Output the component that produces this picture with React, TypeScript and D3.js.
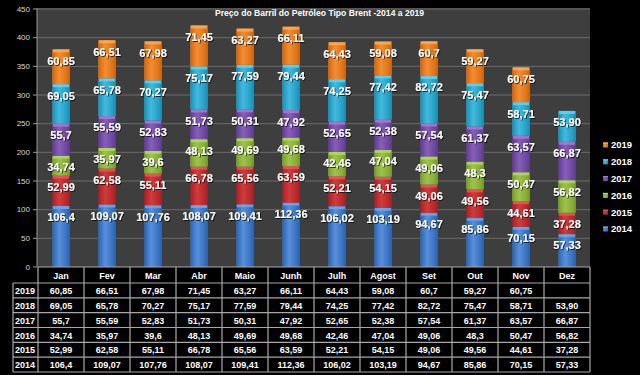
import React from "react";
import * as d3 from "d3";

const months = ["Jan", "Fev", "Mar", "Abr", "Maio", "Junh", "Julh", "Agost", "Set", "Out", "Nov", "Dez"];
const years = ["2014", "2015", "2016", "2017", "2018", "2019"];

const v2014 = ["106,4", "109,07", "107,76", "108,07", "109,41", "112,36", "106,02", "103,19", "94,67", "85,86", "70,15", "57,33"];
const v2015 = ["52,99", "62,58", "55,11", "66,78", "65,56", "63,59", "52,21", "54,15", "49,06", "49,56", "44,61", "37,28"];
const v2016 = ["34,74", "35,97", "39,6", "48,13", "49,69", "49,68", "42,46", "47,04", "49,06", "48,3", "50,47", "56,82"];
const v2017 = ["55,7", "55,59", "52,83", "51,73", "50,31", "47,92", "52,65", "52,38", "57,54", "61,37", "63,57", "66,87"];
const v2018 = ["69,05", "65,78", "70,27", "75,17", "77,59", "79,44", "74,25", "77,42", "82,72", "75,47", "58,71", "53,90"];
const v2019 = ["60,85", "66,51", "67,98", "71,45", "63,27", "66,11", "64,43", "59,08", "60,7", "59,27", "60,75", ""];

const yTicks = [0, 50, 100, 150, 200, 250, 300, 350, 400, 450];
const title = "Preço do Barril do Petróleo Tipo Brent -2014 a 2019";

const seriesStrings = [v2014, v2015, v2016, v2017, v2018, v2019];
const colors = [
  { base: "#3a72c2", light: "#5890da", dark: "#30619f", cap: "#7aa8e6" },
  { base: "#b8292b", light: "#cf3d3d", dark: "#97222a", cap: "#e06060" },
  { base: "#86ad37", light: "#9ec34d", dark: "#71932d", cap: "#b8d870" },
  { base: "#6e47a0", light: "#8660b8", dark: "#5c3b88", cap: "#a283cf" },
  { base: "#279fc4", light: "#43b9dd", dark: "#2088a8", cap: "#70d2ee" },
  { base: "#e0741a", light: "#f28e32", dark: "#c26314", cap: "#f8b060" },
];

const num = (s: string) => (s === "" ? null : +s.replace(",", "."));

export default function App() {
  const W = 640, H = 375;
  const plotL = 37, plotR = 590, plotT = 9, plotB = 267;
  const y = d3.scaleLinear().domain([0, 450]).range([plotB, plotT]);
  const x = d3.scaleBand<string>().domain(months).range([38, 590]).padding(0);
  const barW = 18;

  const rows = months.map((m, i) => {
    const o: any = { month: m };
    years.forEach((yr, k) => { o[yr] = num(seriesStrings[k][i]) ?? 0; });
    return o;
  });
  const stacked = d3.stack<any>().keys(years)(rows);

  const tableTop = 267, headerB = 283, tableB = 372;
  const rowH = (tableB - headerB) / 6;
  const tableRows = [...years].reverse();
  const labelL = 13;
  const borderC = "#a8a8a8";

  return (
    <svg width={W} height={H} style={{ position: "absolute", left: 0, top: 0, background: "#000" }}
      fontFamily="'Liberation Sans', Arial, sans-serif">
      <defs>
        {colors.map((c, k) => (
          <linearGradient key={k} id={`g${k}`} x1="0" x2="1" y1="0" y2="0">
            <stop offset="0%" stopColor={c.dark} />
            <stop offset="15%" stopColor={c.base} />
            <stop offset="40%" stopColor={c.light} />
            <stop offset="80%" stopColor={c.base} />
            <stop offset="100%" stopColor={c.dark} />
          </linearGradient>
        ))}
        <filter id="sh" x="-20%" y="-20%" width="140%" height="140%">
          <feDropShadow dx="0.8" dy="0.8" stdDeviation="0.6" floodColor="#000" floodOpacity="0.9" />
        </filter>
      </defs>
      <rect x={0} y={0} width={W} height={H} fill="#000" />
      <rect x={plotL} y={plotT - 1} width={plotR - plotL} height={plotB - plotT + 1} fill="#3e3e3e" />
      {yTicks.map((t) => (
        <g key={t}>
          {t > 0 && <line x1={plotL} x2={plotR} y1={y(t)} y2={y(t)} stroke="#6c6c6c" strokeWidth={1} />}
          <line x1={plotL - 4} x2={plotL} y1={y(t)} y2={y(t)} stroke="#9a9a9a" />
          <text x={plotL - 7} y={y(t)} dy="0.35em" textAnchor="end" fontSize={8} fill="#d8d8d8">{t}</text>
        </g>
      ))}
      <line x1={plotL} x2={plotL} y1={plotT - 1} y2={plotB} stroke="#9a9a9a" />
      <text x={215} y={16} fontSize={8.5} fontWeight="bold" fill="#fff" textLength={209} lengthAdjust="spacingAndGlyphs">{title}</text>

      {stacked.map((s, k) => (
        <g key={years[k]}>
          {s.map((d, i) => {
            const val = num(seriesStrings[k][i]);
            if (val === null) return null;
            const cx = (x(months[i]) as number) + x.bandwidth() / 2;
            const y0 = y(d[0]), y1 = y(d[1]);
            const h = y0 - y1;
            return (
              <g key={i}>
                <rect x={cx - barW / 2} y={y1} width={barW} height={h} fill={`url(#g${k})`} />
                <rect x={cx - barW / 2 + 1} y={y1} width={barW - 2} height={Math.min(3, h)} fill={colors[k].cap} opacity={0.8} />
              </g>
            );
          })}
        </g>
      ))}
      {stacked.map((s, k) => (
        <g key={"l" + years[k]}>
          {s.map((d, i) => {
            const str = seriesStrings[k][i];
            if (str === "") return null;
            const cx = (x(months[i]) as number) + x.bandwidth() / 2;
            const y1 = y(d[1]);
            const ly = Math.min(y1 + 11.5, (y(d[0]) + y1) / 2 + 2);
            return (
              <text key={i} x={cx} y={ly} dy="0.35em" textAnchor="middle" fontSize={11} fontWeight="bold"
                fill="#fff" filter="url(#sh)">{str}</text>
            );
          })}
        </g>
      ))}

      {[...years].reverse().map((yr, j) => {
        const k = 5 - j;
        const ly = 145 + j * 16.8;
        return (
          <g key={yr}>
            <rect x={603} y={ly - 2.5} width={5} height={5} fill={`url(#g${k})`} />
            <rect x={603} y={ly - 2.5} width={5} height={1.2} fill={colors[k].cap} />
            <text x={611} y={ly} dy="0.35em" fontSize={9.5} fontWeight="bold" fill="#fff">{yr}</text>
          </g>
        );
      })}

      <g>
        <rect x={38} y={tableTop} width={plotR - 38} height={headerB - tableTop} fill="#000" />
        <rect x={labelL} y={headerB} width={plotR - labelL} height={tableB - headerB} fill="#000" />
        {months.map((m) => (
          <text key={m} x={(x(m) as number) + x.bandwidth() / 2} y={(tableTop + headerB) / 2 + 1} dy="0.35em"
            textAnchor="middle" fontSize={9} fontWeight="bold" fill="#fff">{m}</text>
        ))}
        {tableRows.map((yr, r) => {
          const k = years.indexOf(yr);
          const ry = headerB + r * rowH;
          return (
            <g key={yr}>
              <text x={labelL + 2} y={ry + rowH / 2 + 0.5} dy="0.35em" fontSize={9} fontWeight="bold" fill="#fff">{yr}</text>
              {months.map((m, i) => (
                <text key={m} x={(x(m) as number) + x.bandwidth() / 2} y={ry + rowH / 2 + 0.5} dy="0.35em"
                  textAnchor="middle" fontSize={9} fontWeight="bold" fill="#fff">{seriesStrings[k][i]}</text>
              ))}
            </g>
          );
        })}
        <line x1={38} x2={plotR} y1={tableTop} y2={tableTop} stroke={borderC} strokeWidth={1.2} />
        {d3.range(7).map((r) => (
          <line key={r} x1={labelL} x2={plotR} y1={headerB + r * rowH} y2={headerB + r * rowH} stroke={borderC} strokeWidth={1.2} />
        ))}
        <line x1={labelL} x2={labelL} y1={headerB} y2={tableB} stroke={borderC} strokeWidth={1.2} />
        {months.map((m) => (
          <line key={m} x1={x(m) as number} x2={x(m) as number} y1={tableTop} y2={tableB} stroke={borderC} strokeWidth={1.2} />
        ))}
        <line x1={plotR} x2={plotR} y1={tableTop} y2={tableB} stroke={borderC} strokeWidth={1.2} />
      </g>
    </svg>
  );
}
